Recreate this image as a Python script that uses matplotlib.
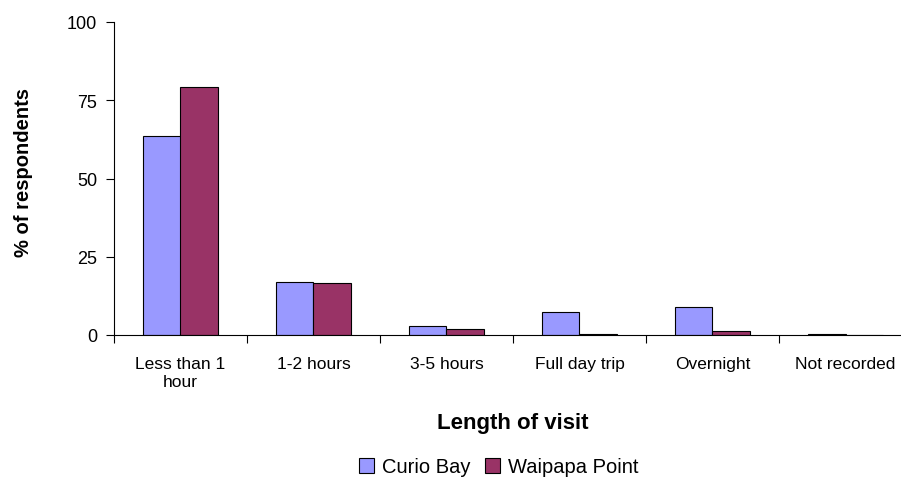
import matplotlib
matplotlib.use("Agg")
import matplotlib.pyplot as plt
import numpy as np

plt.rcParams['font.family'] = ['Liberation Sans', 'DejaVu Sans']

categories = ["Less than 1\nhour", "1-2 hours", "3-5 hours", "Full day trip", "Overnight", "Not recorded"]
curio_bay = [63.5, 17.0, 3.0, 7.3, 8.9, 0.4]
waipapa_point = [79.3, 16.6, 1.8, 0.4, 1.3, 0.0]
yticks = [0, 25, 50, 75, 100]

fig = plt.figure(figsize=(9.01, 4.85), dpi=100)
ax = fig.add_axes([114/901, 1-336/485, (912-114)/901, (336-23)/485])

x = np.arange(len(categories))
w = 0.28
ax.bar(x - w/2, curio_bay, w, color="#9999FF", edgecolor="black", linewidth=0.8, label="Curio Bay")
ax.bar(x + w/2, waipapa_point, w, color="#993366", edgecolor="black", linewidth=0.8, label="Waipapa Point")

ax.set_xlim(-0.5, len(categories) - 0.5)
ax.set_ylim(0, 100)
ax.set_yticks(yticks)
ax.set_yticklabels([str(v) for v in yticks], fontsize=13)
ax.tick_params(axis='y', direction='out', length=6, width=0.8, pad=6)

ax.set_xticks(x)
ax.set_xticklabels(categories, fontsize=12.5, linespacing=1.25)
ax.tick_params(axis='x', which='major', length=0, pad=15)
ax.set_xticks(np.arange(len(categories) + 1) - 0.5, minor=True)
ax.tick_params(axis='x', which='minor', direction='out', length=6, width=0.8)

for s in ['top', 'right']:
    ax.spines[s].set_visible(False)
ax.spines['left'].set_linewidth(0.8)
ax.spines['bottom'].set_linewidth(0.8)

ax.set_ylabel("% of respondents", fontsize=14.5, fontweight='bold')
ax.yaxis.set_label_coords(-(114-33)/(912-114), (336-173)/(336-23))
ax.set_xlabel("Length of visit", fontsize=16, fontweight='bold')
ax.xaxis.set_label_coords((513-114)/(912-114), -(413-336)/(336-23))

fig.legend(loc='center', bbox_to_anchor=(499/901, 1-468/485), ncol=2, frameon=False,
           fontsize=14.5, handlelength=0.75, handleheight=0.75, handletextpad=0.4, columnspacing=0.7)

fig.savefig("out.png", dpi=100)
